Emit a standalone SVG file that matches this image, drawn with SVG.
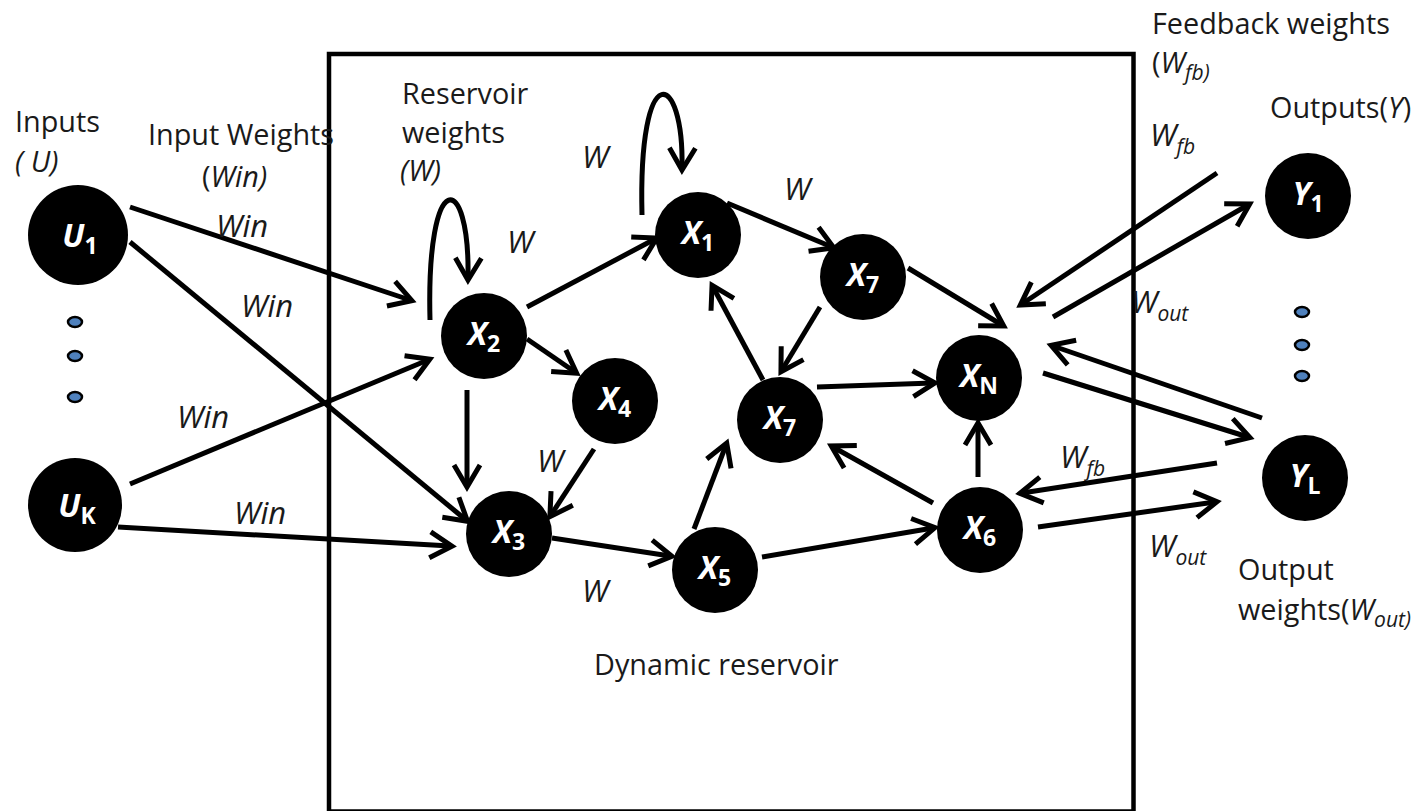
<svg xmlns="http://www.w3.org/2000/svg" width="1422" height="811" viewBox="0 0 1422 811">
<style>
.lbl{font-family:"Open Sans","Liberation Sans",sans-serif;font-size:28.8px;fill:#1a1a1a}
.it{font-style:italic}
.wl{font-size:31px;font-style:italic}
.sb{font-size:21px;font-style:italic}
.node{fill:#000}
.nl{font-family:"Open Sans","Liberation Sans",sans-serif;font-size:32px;font-weight:bold;font-style:italic;fill:#fff;text-anchor:middle}
.ns{font-size:23px;font-style:normal}
.edge{fill:none;stroke:#000;stroke-width:5;marker-end:url(#ah)}
.dot{fill:#4f81bd;stroke:#000;stroke-width:2.5}
</style>
<defs>
<marker id="ah" markerUnits="userSpaceOnUse" markerWidth="44" markerHeight="44" viewBox="-34 -22 44 44" refX="-2" refY="0" orient="auto">
<path d="M-22,-13 L0,0 L-22,13" fill="none" stroke="#000" stroke-width="5"/>
</marker>
</defs>
<rect x="329" y="54" width="804.5" height="757.5" fill="none" stroke="#000" stroke-width="4.5"/>
<g id="connectors">
<path class="edge" d="M130,207 L410,300"/>
<path class="edge" d="M130,242 L466,520"/>
<path class="edge" d="M130,484 L428,360"/>
<path class="edge" d="M118,527 L450,546"/>
<path class="edge" d="M430,320 C426,165 470,170 468,278"/>
<path class="edge" d="M642,215 C638,55 684,70 682,168"/>
<path class="edge" d="M527,307 L655,239"/>
<path class="edge" d="M527,339 L575,372"/>
<path class="edge" d="M467,390 L467,485"/>
<path class="edge" d="M594,449 L551,515"/>
<path class="edge" d="M552,538 L670,556"/>
<path class="edge" d="M694,529 L726,445"/>
<path class="edge" d="M727,203 L832,247"/>
<path class="edge" d="M820,307 L782,370"/>
<path class="edge" d="M763,380 L713,287"/>
<path class="edge" d="M908,268 L1002,325"/>
<path class="edge" d="M817,387 L933,383"/>
<path class="edge" d="M933,503 L833,447"/>
<path class="edge" d="M978,477 L978,425"/>
<path class="edge" d="M762,557 L933,528"/>
<path class="edge" d="M1217,173 L1022,304"/>
<path class="edge" d="M1053,317 L1248,205"/>
<path class="edge" d="M1262,418 L1053,346"/>
<path class="edge" d="M1043,373 L1248,437"/>
<path class="edge" d="M1217,463 L1022,493"/>
<path class="edge" d="M1038,527 L1215,502"/>
</g>
<g id="U1"><circle class="node" cx="78" cy="235" r="50"/><text class="nl" x="80" y="247">U<tspan class="ns" dy="7" font-style="italic">1</tspan></text></g>
<g id="UK"><circle class="node" cx="75" cy="505" r="47"/><text class="nl" x="77" y="517">U<tspan class="ns" dy="7" font-style="italic">K</tspan></text></g>
<g id="dotsL"><ellipse class="dot" cx="75" cy="322" rx="7" ry="5"/><ellipse class="dot" cx="75" cy="356" rx="7" ry="5"/><ellipse class="dot" cx="75" cy="397" rx="7" ry="5"/></g>
<g id="X2"><circle class="node" cx="484" cy="336" r="43"/><text class="nl" x="484" y="345">X<tspan class="ns" dy="7">2</tspan></text></g>
<g id="X4"><circle class="node" cx="615" cy="401" r="43"/><text class="nl" x="615" y="410">X<tspan class="ns" dy="7">4</tspan></text></g>
<g id="X3"><circle class="node" cx="509" cy="534" r="43"/><text class="nl" x="509" y="543">X<tspan class="ns" dy="7">3</tspan></text></g>
<g id="X5"><circle class="node" cx="715" cy="570" r="43"/><text class="nl" x="715" y="579">X<tspan class="ns" dy="7">5</tspan></text></g>
<g id="X7b"><circle class="node" cx="780" cy="420" r="43"/><text class="nl" x="780" y="429">X<tspan class="ns" dy="7">7</tspan></text></g>
<g id="X7a"><circle class="node" cx="863" cy="277" r="43"/><text class="nl" x="863" y="286">X<tspan class="ns" dy="7">7</tspan></text></g>
<g id="XN"><circle class="node" cx="979" cy="378" r="43"/><text class="nl" x="979" y="387" font-style="normal" font-weight="normal">X<tspan class="ns" dy="7">N</tspan></text></g>
<g id="X6"><circle class="node" cx="980" cy="530" r="43"/><text class="nl" x="980" y="539">X<tspan class="ns" dy="7">6</tspan></text></g>
<g id="X1"><circle class="node" cx="698" cy="235" r="43"/><text class="nl" x="698" y="244">X<tspan class="ns" dy="7">1</tspan></text></g>
<g id="Y1"><circle class="node" cx="1308" cy="196" r="43"/><text class="nl" x="1308" y="205">Y<tspan class="ns" dy="7" font-style="italic">1</tspan></text></g>
<g id="YL"><circle class="node" cx="1305" cy="478" r="43"/><text class="nl" x="1305" y="487">Y<tspan class="ns" dy="7" font-style="italic">L</tspan></text></g>
<g id="dotsR"><ellipse class="dot" cx="1302" cy="312" rx="7" ry="5"/><ellipse class="dot" cx="1302" cy="345" rx="7" ry="5"/><ellipse class="dot" cx="1302" cy="376" rx="7" ry="5"/></g>
<g id="labels">
<text class="lbl" x="15" y="132">Inputs</text>
<text class="lbl it" x="15" y="172">( U)</text>
<text class="lbl" x="148" y="145">Input Weights</text>
<text class="lbl" x="202" y="187">(<tspan class="it">Win)</tspan></text>
<text class="lbl wl" x="216" y="237">Win</text>
<text class="lbl wl" x="241" y="317">Win</text>
<text class="lbl wl" x="177" y="428">Win</text>
<text class="lbl wl" x="234" y="524">Win</text>
<text class="lbl" x="402" y="104">Reservoir</text>
<text class="lbl" x="402" y="143">weights</text>
<text class="lbl it" x="400" y="181">(W)</text>
<text class="lbl wl" x="507" y="253">W</text>
<text class="lbl wl" x="582" y="168">W</text>
<text class="lbl wl" x="784" y="200">W</text>
<text class="lbl wl" x="537" y="472">W</text>
<text class="lbl wl" x="582" y="602">W</text>
<text class="lbl" x="594" y="675">Dynamic reservoir</text>
<text class="lbl" x="1152" y="34" font-size="28">Feedback weights</text>
<text class="lbl" x="1152" y="73" font-size="28">(<tspan class="it">W</tspan><tspan class="sb" dy="7">fb)</tspan></text>
<text class="lbl" x="1270" y="118">Outputs(<tspan class="it">Y</tspan>)</text>
<text class="lbl wl" x="1150" y="146">W<tspan class="sb" dy="8">fb</tspan></text>
<text class="lbl wl" x="1131" y="313">W<tspan class="sb" dy="8">out</tspan></text>
<text class="lbl wl" x="1060" y="468">W<tspan class="sb" dy="8">fb</tspan></text>
<text class="lbl wl" x="1149" y="557">W<tspan class="sb" dy="8">out</tspan></text>
<text class="lbl" x="1238" y="580">Output</text>
<text class="lbl" x="1238" y="620">weights(<tspan class="it">W</tspan><tspan class="sb" dy="7">out)</tspan></text>
</g>
</svg>
